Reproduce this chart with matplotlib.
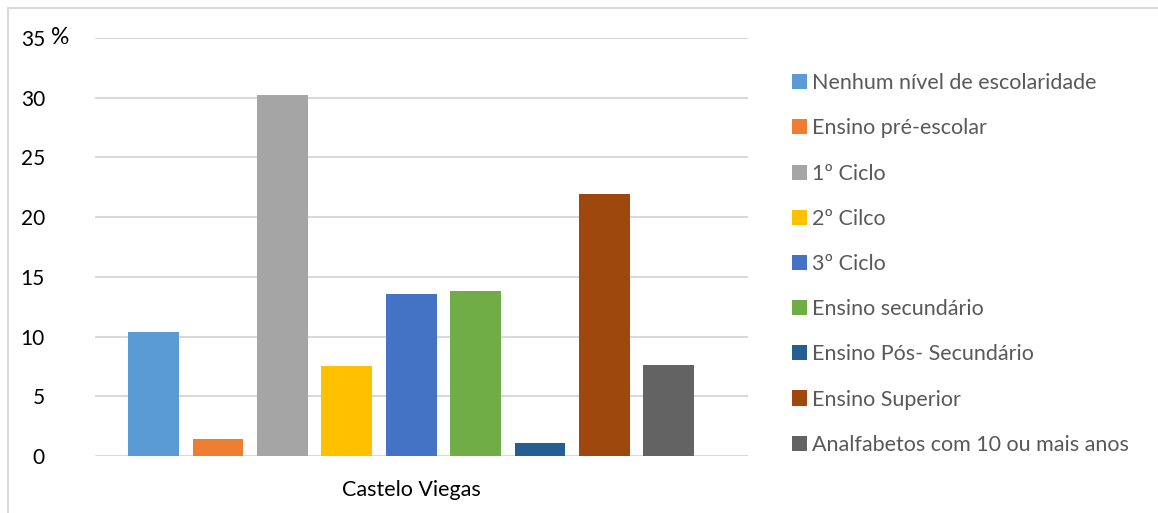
import matplotlib.pyplot as plt
from matplotlib.patches import Patch
from matplotlib.lines import Line2D

plt.rcParams['font.family'] = ['Lato', 'DejaVu Sans']

# Dados (percentagem da população por nível de escolaridade)
categorias = ["Nenhum nível de escolaridade", "Ensino pré-escolar", "1º Ciclo",
              "2º Cilco", "3º Ciclo", "Ensino secundário", "Ensino Pós- Secundário",
              "Ensino Superior", "Analfabetos com 10 ou mais anos"]
valores = [10.4, 1.4, 30.2, 7.5, 13.6, 13.8, 1.1, 21.9, 7.6]
cores = ["#5B9BD5", "#ED7D31", "#A5A5A5", "#FFC000", "#4472C4",
         "#70AD47", "#255E91", "#9E480E", "#636363"]
grupo = "Castelo Viegas"
yticks = [0, 5, 10, 15, 20, 25, 30, 35]

fig = plt.figure(figsize=(11.58, 5.13), dpi=100)
ax = fig.add_axes([0.082, 0.111, 0.564, 0.815])

for i, (v, c) in enumerate(zip(valores, cores)):
    ax.bar(i, v, width=0.79, color=c, label=categorias[i], zorder=3)

ax.set_ylim(0, 35)
ax.set_xlim(-0.91, 9.23)
ax.set_yticks(yticks)
ax.set_yticklabels([str(t) for t in yticks], fontsize=15)
ax.tick_params(axis='y', length=0, pad=36)
ax.set_xticks([4])
ax.set_xticklabels([grupo], fontsize=15.5)
ax.tick_params(axis='x', length=0, pad=17)
ax.grid(axis='y', color='#D9D9D9', linewidth=1.5, zorder=0)
for s in ax.spines.values():
    s.set_visible(False)

ax.text(-0.067, 1.0, "%", transform=ax.transAxes, fontsize=16.5, va='center', ha='left')

# legenda
handles = [Patch(facecolor=c, label=l) for c, l in zip(cores, categorias)]
fig.legend(handles=handles, loc='upper left', bbox_to_anchor=(0.667, 0.895),
           frameon=False, fontsize=15.5, labelcolor='#595959',
           handlelength=0.7, handleheight=0.7, handletextpad=0.22,
           labelspacing=1.17)

# moldura do gráfico (só topo e esquerda visíveis)
fig.lines.append(Line2D([8 / 1158, 8 / 1158], [0, 1 - 8 / 513], transform=fig.transFigure,
                        color='#D9D9D9', linewidth=1.5))
fig.lines.append(Line2D([8 / 1158, 1], [1 - 8 / 513, 1 - 8 / 513], transform=fig.transFigure,
                        color='#D9D9D9', linewidth=1.5))

fig.savefig("out.png", dpi=100)
